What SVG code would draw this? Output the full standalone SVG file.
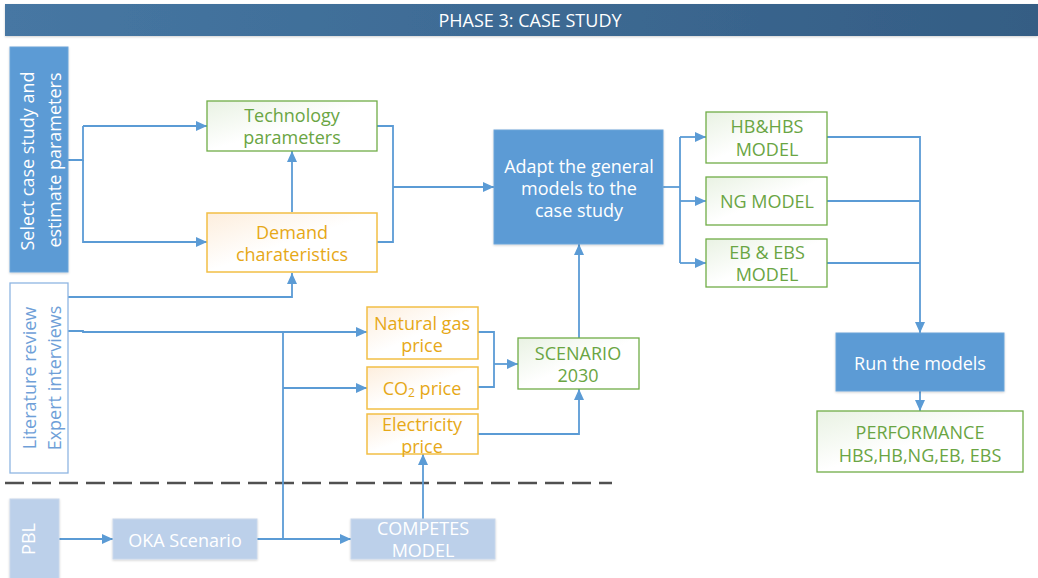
<svg xmlns="http://www.w3.org/2000/svg" width="1038" height="578" viewBox="0 0 1038 578">
  <style>
    text { font-family: "Open Sans", "Noto Sans", "Liberation Sans", sans-serif; font-size: 18px; text-anchor: middle; dominant-baseline: central; }
    .blue { fill: #5b9bd5; stroke: #6fa6da; stroke-width: 1; filter: url(#soft); }
    .pale { fill: #bcd0ea; stroke: #c9d8ec; stroke-width: 1; filter: url(#soft); }
    .green { fill: url(#gGreen); stroke: #70ad47; stroke-width: 1.3; }
    .orange { fill: url(#gOrange); stroke: #f2bf45; stroke-width: 1.5; }
    .outline { fill: #ffffff; stroke: #8fb6e2; stroke-width: 1.3; }
    .tw { fill: #ffffff; }
    .tg { fill: #6aa543; }
    .to { fill: #e6a817; }
    .tl { fill: #6f9fd8; }
    .wire { fill: none; stroke: #5b9bd5; stroke-width: 1.8; }
    .arrow { marker-end: url(#ah); }
  </style>
  <defs>
    <marker id="ah" markerUnits="userSpaceOnUse" markerWidth="11" markerHeight="10" refX="11" refY="5" orient="auto">
      <path d="M0,0 L11,5 L0,10 z" fill="#5b9bd5"/>
    </marker>
    <linearGradient id="gTitle" x1="0" y1="0" x2="1" y2="0">
      <stop offset="0" stop-color="#4677a3"/>
      <stop offset="1" stop-color="#345d84"/>
    </linearGradient>
    <linearGradient id="gGreen" x1="0" y1="0" x2="1" y2="1">
      <stop offset="0" stop-color="#e9f2e3"/>
      <stop offset="0.5" stop-color="#ffffff"/>
      <stop offset="1" stop-color="#ffffff"/>
    </linearGradient>
    <linearGradient id="gOrange" x1="0" y1="0" x2="1" y2="1">
      <stop offset="0" stop-color="#fdeedd"/>
      <stop offset="0.5" stop-color="#ffffff"/>
      <stop offset="1" stop-color="#ffffff"/>
    </linearGradient>
    <filter id="soft" x="-10%" y="-10%" width="120%" height="130%">
      <feDropShadow dx="0" dy="1" stdDeviation="1.2" flood-color="#000000" flood-opacity="0.18"/>
    </filter>
  </defs>

  <rect width="1038" height="578" fill="#ffffff"/>

  <!-- header band -->
  <g id="title">
    <rect x="5" y="4" width="1033" height="32" fill="url(#gTitle)" filter="url(#soft)"/>
    <text x="530" y="20" class="tw" font-size="16.5">PHASE 3: CASE STUDY</text>
  </g>

  <!-- separator between case-study inputs and external sources -->
  <line x1="5" y1="483" x2="612" y2="483" stroke="#505050" stroke-width="2.5" stroke-dasharray="19 8"/>

  <!-- connectors -->
  <g id="connectors">
    <path class="wire" d="M68,160 H83 V126"/>
    <path class="wire arrow" d="M83,126 H207"/>
    <path class="wire arrow" d="M83,160 V242 H207"/>
    <path class="wire arrow" d="M292,212 V151"/>
    <path class="wire" d="M377,126 H393 V242 H377"/>
    <path class="wire arrow" d="M393,187 H494"/>
    <path class="wire" d="M663,187 H680"/>
    <path class="wire arrow" d="M680,137 H706"/>
    <path class="wire" d="M680,137 V263"/>
    <path class="wire arrow" d="M680,201 H706"/>
    <path class="wire arrow" d="M680,263 H706"/>
    <path class="wire arrow" d="M827,137 H920 V333"/>
    <path class="wire" d="M827,201 H920"/>
    <path class="wire" d="M827,263 H920"/>
    <path class="wire arrow" d="M920,391 V411"/>
    <path class="wire arrow" d="M68,297 H292 V273"/>
    <path class="wire arrow" d="M68,331 H83 V332 H367"/>
    <path class="wire" d="M283,332 V540"/>
    <path class="wire arrow" d="M283,388 H367"/>
    <path class="wire" d="M478,332 H494 V387 H478"/>
    <path class="wire arrow" d="M494,364 H518"/>
    <path class="wire arrow" d="M579,338 V244"/>
    <path class="wire arrow" d="M478,434 H579 V389"/>
    <path class="wire arrow" d="M59,539 H113"/>
    <path class="wire arrow" d="M257,539 H351"/>
    <path class="wire arrow" d="M423,519 V454"/>
  </g>

  <g id="select-case">
    <rect class="blue" x="10" y="47" width="58" height="225"/>
    <text class="tw" transform="translate(27,161) rotate(-90)" font-size="16.5">Select case study and</text>
    <text class="tw" transform="translate(54,160) rotate(-90)" font-size="16.5">estimate parameters</text>
  </g>

  <g id="literature">
    <rect class="outline" x="10" y="283" width="58" height="190"/>
    <text class="tl" transform="translate(29,378) rotate(-90)" font-size="16.5">Literature review</text>
    <text class="tl" transform="translate(54,378) rotate(-90)" font-size="16.5">Expert interviews</text>
  </g>

  <g id="technology">
    <rect class="green" x="207" y="101" width="170" height="50"/>
    <text class="tg" x="292" y="115">Technology</text>
    <text class="tg" x="292" y="137">parameters</text>
  </g>

  <g id="demand">
    <rect class="orange" x="207" y="213" width="170" height="59"/>
    <text class="to" x="292" y="232">Demand</text>
    <text class="to" x="292" y="254">charateristics</text>
  </g>

  <g id="adapt">
    <rect class="blue" x="494" y="130" width="169" height="114"/>
    <text class="tw" x="579" y="166">Adapt the general</text>
    <text class="tw" x="579" y="188">models to the</text>
    <text class="tw" x="579" y="210">case study</text>
  </g>

  <g id="hb-model">
    <rect class="green" x="706" y="112" width="121" height="51"/>
    <text class="tg" x="767" y="126">HB&amp;HBS</text>
    <text class="tg" x="767" y="149">MODEL</text>
  </g>

  <g id="ng-model">
    <rect class="green" x="706" y="177" width="121" height="48"/>
    <text class="tg" x="767" y="201">NG MODEL</text>
  </g>

  <g id="eb-model">
    <rect class="green" x="706" y="239" width="121" height="48"/>
    <text class="tg" x="767" y="252">EB &amp; EBS</text>
    <text class="tg" x="767" y="274">MODEL</text>
  </g>

  <g id="run">
    <rect class="blue" x="836" y="333" width="168" height="58"/>
    <text class="tw" x="920" y="363">Run the models</text>
  </g>

  <g id="performance">
    <rect class="green" x="817" y="411" width="206" height="61"/>
    <text class="tg" x="920" y="432">PERFORMANCE</text>
    <text class="tg" x="920" y="455">HBS,HB,NG,EB, EBS</text>
  </g>

  <g id="gas-price">
    <rect class="orange" x="367" y="307" width="111" height="52"/>
    <text class="to" x="422" y="323">Natural gas</text>
    <text class="to" x="422" y="345">price</text>
  </g>

  <g id="co2-price">
    <rect class="orange" x="367" y="367" width="111" height="42"/>
    <text class="to" x="422" y="388">CO<tspan font-size="12" dy="4">2</tspan><tspan dy="-4"> price</tspan></text>
  </g>

  <g id="electricity-price">
    <rect class="orange" x="367" y="414" width="111" height="40"/>
    <text class="to" x="422" y="424">Electricity</text>
    <text class="to" x="422" y="446">price</text>
  </g>

  <g id="scenario">
    <rect class="green" x="518" y="338" width="121" height="51"/>
    <text class="tg" x="578" y="353">SCENARIO</text>
    <text class="tg" x="578" y="375">2030</text>
  </g>

  <g id="pbl">
    <rect class="pale" x="10" y="499" width="49" height="85"/>
    <text class="tw" transform="translate(28,539) rotate(-90)">PBL</text>
  </g>

  <g id="oka">
    <rect class="pale" x="113" y="519" width="144" height="40"/>
    <text class="tw" x="185" y="540">OKA Scenario</text>
  </g>

  <g id="competes">
    <rect class="pale" x="351" y="519" width="144" height="40"/>
    <text class="tw" x="423" y="528">COMPETES</text>
    <text class="tw" x="423" y="550">MODEL</text>
  </g>
</svg>
